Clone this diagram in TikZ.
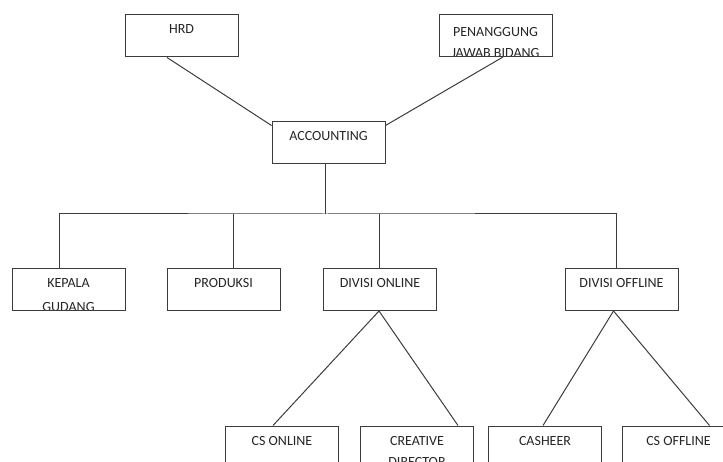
\documentclass[tikz,border=0pt]{standalone}
\usepackage{fontspec}
\setmainfont{Carlito}
\usepackage{xcolor}
\usetikzlibrary{positioning,calc}
\definecolor{linegray}{RGB}{60,60,60}
\tikzset{
  textdrop/.store in = \unittextdrop, textdrop=9.5pt,
  unit/.style   = {draw=linegray, line width=1pt, fill=white, minimum width=113pt, minimum height=42pt, inner sep=0pt,
                   path picture={\node[unittext] at ([yshift=-\unittextdrop]path picture bounding box.north) {#1};}},
  unittext/.style = {draw=none, fill=none, minimum width=0pt, minimum height=0pt, anchor=north, align=center,
                     inner sep=0pt, text=black!85, font=\fontsize{14}{21}\selectfont},
  link/.style   = {draw=linegray, line width=1pt},
}
\begin{document}
\begin{tikzpicture}[x=1pt, y=1pt]
  \useasboundingbox (0,0) rectangle (723,-462);
  \clip (0,0) rectangle (723,-462);
  % top level
  \node[unit=HRD] (hrd) at (181.5,-36) {};
  \node[unit={PENANGGUNG\\JAWAB BIDANG}, textdrop=12pt] (pj) at (495.5,-35.5) {};
  \node[unit=ACCOUNTING, textdrop=8.5pt] (acc) at (328.5,-143) {};
  % divisions
  \node[unit={KEPALA\\[3.5pt]GUDANG}] (gudang) at (68.5,-289.5) {};
  \node[unit=PRODUKSI] (produksi) at (223.5,-289.5) {};
  \node[unit=DIVISI ONLINE] (online) at (380,-289.5) {};
  \node[unit=DIVISI OFFLINE] (offline) at (621.5,-289.5) {};
  % staff
  \node[unit=CS ONLINE] (csonline) at (282,-447) {};
  \node[unit={CREATIVE\\DIRECTOR}] (creative) at (417,-447) {};
  \node[unit=CASHEER] (casheer) at (545,-447) {};
  \node[unit=CS OFFLINE] (csoffline) at (678.5,-447) {};
  \coordinate (bus) at (325,-214);
  \draw[link] ([xshift=-14.5pt]hrd.south) -- ([yshift=-4pt]acc.north west);
  \draw[link] ([xshift=7.5pt]pj.south) -- ([yshift=-4pt]acc.north east);
  \draw[link] ([xshift=-3.5pt]acc.south) -- (bus);
  \draw[link] ([xshift=-9.5pt]gudang.north) |- (bus) -| ([xshift=-5.5pt]offline.north);
  \draw[link] ([xshift=9.5pt]produksi.north) -- ([xshift=9.5pt]produksi.north |- bus);
  \draw[link] ([xshift=-1pt]online.north) -- ([xshift=-1pt]online.north |- bus);
  \draw[link] ([xshift=-1pt]online.south) -- ([xshift=-9pt]csonline.north);
  \draw[link] ([xshift=-1pt]online.south) -- ([xshift=41pt]creative.north);
  \draw[link] ([xshift=-8pt]offline.south) -- ([xshift=-2pt]casheer.north);
  \draw[link] ([xshift=-8pt]offline.south) -- ([xshift=31pt]csoffline.north);
\end{tikzpicture}
\end{document}
